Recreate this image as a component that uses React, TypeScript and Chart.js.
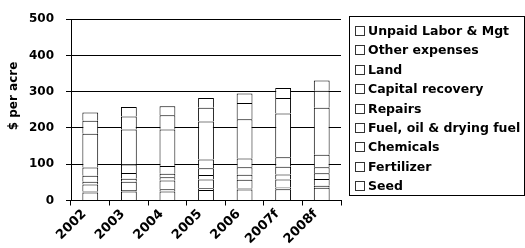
import { useEffect, useRef } from 'react';
import { Chart, registerables } from 'chart.js';

Chart.register(...registerables);

const years = ['2002', '2003', '2004', '2005', '2006', '2007f', '2008f'];
const seed = [22, 25, 25, 29, 30, 31, 35];
const fertilizer = [3, 4, 6, 5, 3, 5, 6];
const chemicals = [19, 23, 24, 24, 24, 22, 18];
const fuel = [8, 8, 9, 12, 14, 14, 16];
const repairs = [16, 16, 10, 19, 21, 21, 17];
const capitalRecovery = [23, 23, 21, 24, 24, 26, 34];
const land = [93, 97, 101, 105, 108, 121, 130];
const otherExpenses = [36, 36, 39, 38, 45, 43, 47];
const unpaidLabor = [23, 26, 25, 27, 26, 27, 28];

const seriesLabels = [
  'Seed',
  'Fertilizer',
  'Chemicals',
  'Fuel, oil & drying fuel',
  'Repairs',
  'Capital recovery',
  'Land',
  'Other expenses',
  'Unpaid Labor & Mgt',
];
const seriesValues = [seed, fertilizer, chemicals, fuel, repairs, capitalRecovery, land, otherExpenses, unpaidLabor];
const yAxisTitle = '$ per acre';

const FONT = '"DejaVu Sans", "Liberation Sans", Arial, sans-serif';

const boxLegend = {
  id: 'boxLegend',
  afterDraw(chart: any) {
    const ctx = chart.ctx as CanvasRenderingContext2D;
    ctx.save();
    ctx.strokeStyle = '#000';
    ctx.lineWidth = 1;
    ctx.strokeRect(349.5, 16.5, 175, 179);
    ctx.font = `bold 12.5px ${FONT}`;
    ctx.textBaseline = 'middle';
    ctx.textAlign = 'left';
    const ds = chart.data.datasets.slice().reverse();
    ds.forEach((d: any, i: number) => {
      const cy = Math.round(31 + i * 19.4);
      ctx.fillStyle = '#fff';
      ctx.fillRect(355.5, cy - 4.5, 9, 9);
      ctx.strokeStyle = '#333';
      ctx.strokeRect(355.5, cy - 4.5, 9, 9);
      ctx.fillStyle = '#000';
      ctx.fillText(d.label, 368, cy + 0.5);
    });
    // y axis title
    ctx.translate(14, 96);
    ctx.rotate(-Math.PI / 2);
    ctx.font = `bold 12px ${FONT}`;
    ctx.textAlign = 'center';
    ctx.fillText(yAxisTitle, 0, 0);
    ctx.restore();
  },
};

export default function App() {
  const ref = useRef<HTMLCanvasElement | null>(null);

  useEffect(() => {
    if (!ref.current) return;
    const chart = new Chart(ref.current, {
      type: 'bar',
      data: {
        labels: years,
        datasets: seriesLabels.map((label, i) => ({
          label,
          data: seriesValues[i],
          backgroundColor: '#ffffff',
          borderColor: '#000000',
          borderWidth: 1,
          barPercentage: 0.41,
          categoryPercentage: 1,
        })),
      },
      options: {
        responsive: false,
        animation: false,
        layout: { padding: { top: 14, right: 184, left: 0, bottom: 0 } },
        plugins: {
          legend: { display: false },
          tooltip: { enabled: false },
        },
        scales: {
          x: {
            stacked: true,
            offset: true,
            grid: {
              offset: true,
              drawOnChartArea: false,
              drawTicks: true,
              tickLength: 5,
              color: '#000',
            },
            border: { color: '#000' },
            ticks: {
              color: '#000',
              minRotation: 45,
              maxRotation: 45,
              padding: 1,
              labelOffset: -6,
              font: { family: FONT, size: 13, weight: 'bold' },
            },
            afterFit(scale: any) {
              scale.height = 47.5;
            },
          },
          y: {
            stacked: true,
            min: 0,
            max: 500,
            ticks: {
              stepSize: 100,
              color: '#000',
              padding: 12,
              font: { family: FONT, size: 12, weight: 'bold' },
            },
            grid: {
              color: '#000',
              tickLength: 5,
            },
            border: { color: '#000' },
            afterFit(scale: any) {
              scale.width = 71;
            },
          },
        },
      },
      plugins: [boxLegend],
    });
    return () => chart.destroy();
  }, []);

  return (
    <div style={{ position: 'fixed', left: 0, top: 0, width: 525, height: 248, background: '#fff' }}>
      <canvas ref={ref} width={525} height={248} />
    </div>
  );
}
